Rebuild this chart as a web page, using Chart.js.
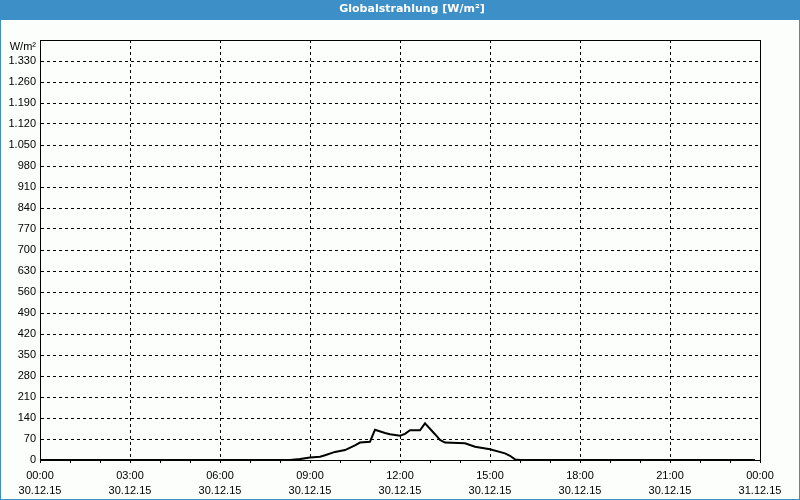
<!DOCTYPE html>
<html>
<head>
  <title>Globalstrahlung</title>
  <script src="https://cdn.jsdelivr.net/npm/chart.js"></script>
  <style>
    html, body { margin: 0; padding: 0; background: #fff; }
    #wrap { width: 800px; height: 500px; }
  </style>
</head>
<body>
  <div id="wrap"><canvas id="solarChart" width="800" height="500"></canvas></div>

  <script>
    // Messzeiten (30.12.15) und Globalstrahlung in W/m²
    const times = ['00:00', '08:20', '08:40', '09:00', '09:20', '09:30', '09:50', '10:10', '10:30', '10:40',
                   '11:00', '11:10', '11:30', '11:40', '12:00', '12:10', '12:20', '12:40', '12:50', '13:10',
                   '13:20', '13:30', '14:10', '14:30', '15:00', '15:30', '15:40', '15:50', '16:00', '23:50'];
    const values = [0, 0, 3, 8, 11, 16, 27, 33, 49, 58,
                    61, 101, 90, 86, 81, 87, 99, 99, 122, 86,
                    67, 58, 56, 44, 36, 22, 14, 2, 0, 0];

    // Achsenbeschriftung
    const xTickTimes = ['00:00', '03:00', '06:00', '09:00', '12:00', '15:00', '18:00', '21:00', '00:00'];
    const xTickDates = ['30.12.15', '30.12.15', '30.12.15', '30.12.15', '30.12.15', '30.12.15', '30.12.15', '30.12.15', '31.12.15'];
    const yMax = 1400;
    const yStep = 70;
    const unitLabel = 'W/m²';
    const titleText = 'Globalstrahlung [W/m²]';

    const blue = '#3c8fc7';

    function toMinutes(t) {
      const p = t.split(':');
      return parseInt(p[0]) * 60 + parseInt(p[1]);
    }

    function formatDe(v) {
      if (v >= 1000) {
        const s = String(v);
        return s.slice(0, s.length - 3) + '.' + s.slice(s.length - 3);
      }
      return String(v);
    }

    const points = times.map((t, i) => ({ x: toMinutes(t), y: values[i] }));

    // Hintergrund, Titelleiste, Rahmen
    const framePlugin = {
      id: 'frame',
      afterLayout(chart) {
        // Titel sitzt im Original etwas rechts der Mitte
        if (chart.titleBlock) {
          chart.titleBlock.left = 24;
          chart.titleBlock.right = chart.width;
        }
      },
      beforeDraw(chart) {
        const ctx = chart.ctx;
        ctx.save();
        ctx.fillStyle = '#fbfefb';
        ctx.fillRect(0, 0, chart.width, chart.height);
        ctx.fillStyle = blue;
        ctx.fillRect(0, 0, chart.width, 20);
        ctx.strokeStyle = blue;
        ctx.lineWidth = 1;
        ctx.strokeRect(0.5, 0.5, chart.width - 1, chart.height - 1);
        ctx.restore();
      },
      afterDraw(chart) {
        const a = chart.chartArea;
        const ctx = chart.ctx;
        ctx.save();
        ctx.strokeStyle = '#000';
        ctx.lineWidth = 1;
        ctx.strokeRect(Math.round(a.left) + 0.5, Math.round(a.top) + 0.5,
                       Math.round(a.right - a.left), Math.round(a.bottom - a.top));
        ctx.restore();
      }
    };

    const ctx = document.getElementById('solarChart').getContext('2d');
    const chart = new Chart(ctx, {
      type: 'line',
      data: {
        datasets: [{
          label: 'Globalstrahlung',
          data: points,
          borderColor: '#000',
          borderWidth: 2,
          pointRadius: 0,
          tension: 0,
          fill: false
        }]
      },
      options: {
        responsive: false,
        animation: false,
        layout: { padding: { top: 0, right: 40, left: 0, bottom: 0 } },
        plugins: {
          legend: { display: false },
          tooltip: { enabled: false },
          title: {
            display: true,
            text: titleText,
            color: '#fff',
            font: { family: 'DejaVu Sans', size: 11, weight: 'bold', lineHeight: 1.2 },
            padding: { top: 3, bottom: 23.8 }
          }
        },
        scales: {
          x: {
            type: 'linear',
            min: 0,
            max: 1440,
            afterBuildTicks(scale) {
              const t = [];
              for (let m = 0; m <= 1440; m += 60) t.push({ value: m });
              scale.ticks = t;
            },
            afterFit(scale) { scale.height = 40; },
            ticks: {
              autoSkip: false,
              maxRotation: 0,
              padding: 5,
              color: '#000',
              font: { family: 'Liberation Sans', size: 11, lineHeight: 1.4 },
              callback(value) {
                if (value % 180 !== 0) return '';
                const i = value / 180;
                return [xTickTimes[i], xTickDates[i]];
              }
            },
            grid: {
              color: c => (c.tick && c.tick.value % 180 === 0) ? '#000' : 'rgba(0,0,0,0)',
              lineWidth: 1,
              tickColor: '#000',
              tickLength: 3,
              tickBorderDash: [],
              drawTicks: true
            },
            border: { display: true, color: '#000', width: 1, dash: [3, 3] }
          },
          y: {
            min: 0,
            max: yMax,
            afterFit(scale) { scale.width = 40; },
            ticks: {
              stepSize: yStep,
              autoSkip: false,
              padding: 4,
              color: '#000',
              font: { family: 'Liberation Sans', size: 11 },
              callback(value) {
                // Einheit steht im Original etwas unterhalb der Oberkante
                if (value === yMax) return ['', unitLabel];
                return formatDe(value);
              }
            },
            grid: {
              color: '#000',
              lineWidth: 1,
              drawTicks: false
            },
            border: { display: true, color: '#000', width: 1, dash: [3, 3] }
          }
        }
      },
      plugins: [framePlugin]
    });
  </script>
</body>
</html>
